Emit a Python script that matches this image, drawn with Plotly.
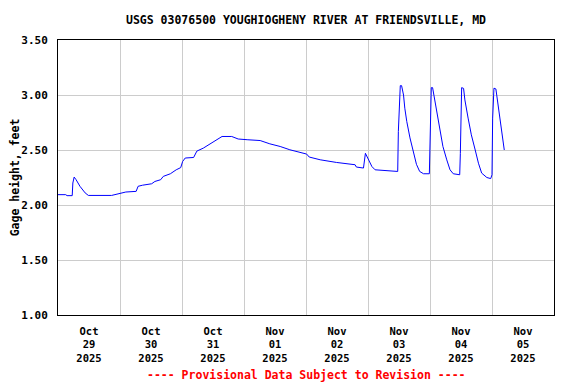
import plotly.graph_objects as go

times = [
    "2025-10-29 00:00", "2025-10-29 03:00", "2025-10-29 03:30", "2025-10-29 05:30",
    "2025-10-29 05:45", "2025-10-29 06:15", "2025-10-29 07:00", "2025-10-29 08:30",
    "2025-10-29 10:30", "2025-10-29 11:45", "2025-10-29 20:45", "2025-10-29 23:15",
    "2025-10-30 01:15", "2025-10-30 02:15", "2025-10-30 06:15", "2025-10-30 07:00",
    "2025-10-30 08:45", "2025-10-30 12:15", "2025-10-30 13:30", "2025-10-30 15:45",
    "2025-10-30 16:45", "2025-10-30 19:30", "2025-10-30 21:45", "2025-10-30 23:30",
    "2025-10-31 00:15", "2025-10-31 01:15", "2025-10-31 04:30", "2025-10-31 05:45",
    "2025-10-31 08:15", "2025-10-31 10:45", "2025-10-31 13:30", "2025-10-31 15:30",
    "2025-10-31 19:15", "2025-10-31 21:45", "2025-11-01 01:30", "2025-11-01 06:15",
    "2025-11-01 10:00", "2025-11-01 14:00", "2025-11-01 17:45", "2025-11-02 00:15",
    "2025-11-02 01:15", "2025-11-02 05:30", "2025-11-02 11:45", "2025-11-02 19:00",
    "2025-11-02 19:30", "2025-11-02 22:15", "2025-11-02 23:00", "2025-11-03 00:00",
    "2025-11-03 01:30", "2025-11-03 02:45", "2025-11-03 06:00", "2025-11-03 11:30",
    "2025-11-03 11:45", "2025-11-03 12:30", "2025-11-03 13:00", "2025-11-03 13:45",
    "2025-11-03 14:15", "2025-11-03 15:00", "2025-11-03 16:15", "2025-11-03 17:30",
    "2025-11-03 18:45", "2025-11-03 20:00", "2025-11-03 21:30", "2025-11-03 23:45",
    "2025-11-04 00:00", "2025-11-04 00:30", "2025-11-04 01:00", "2025-11-04 01:45",
    "2025-11-04 02:30", "2025-11-04 04:00", "2025-11-04 05:00", "2025-11-04 06:30",
    "2025-11-04 07:45", "2025-11-04 09:00", "2025-11-04 11:30", "2025-11-04 11:45",
    "2025-11-04 12:15", "2025-11-04 13:00", "2025-11-04 13:30", "2025-11-04 14:45",
    "2025-11-04 16:00", "2025-11-04 17:30", "2025-11-04 18:45", "2025-11-04 20:00",
    "2025-11-04 22:00", "2025-11-04 23:30", "2025-11-05 00:00", "2025-11-05 00:15",
    "2025-11-05 00:45", "2025-11-05 01:30", "2025-11-05 02:00", "2025-11-05 03:00",
    "2025-11-05 04:00", "2025-11-05 04:45",
]

gage_height = [
    2.094, 2.094, 2.085, 2.085,
    2.20, 2.254, 2.23, 2.17,
    2.11, 2.087, 2.087, 2.10,
    2.109, 2.118, 2.124, 2.17,
    2.18, 2.193, 2.214, 2.23,
    2.26, 2.284, 2.32, 2.34,
    2.396, 2.427, 2.432, 2.49,
    2.517, 2.556, 2.593, 2.623,
    2.623, 2.60, 2.593, 2.586,
    2.556, 2.532, 2.502, 2.463,
    2.436, 2.411, 2.387, 2.366,
    2.345, 2.336, 2.47, 2.427,
    2.35, 2.32, 2.314, 2.305,
    2.668, 3.085, 3.085, 3.0,
    2.88, 2.76, 2.61, 2.49,
    2.37, 2.305, 2.284, 2.284,
    2.638, 3.067, 3.067, 2.97,
    2.85, 2.668, 2.532, 2.41,
    2.32, 2.284, 2.275, 2.47,
    3.067, 3.06, 2.955, 2.79,
    2.638, 2.50, 2.38, 2.29,
    2.25, 2.24, 2.275, 2.79,
    3.062, 3.055, 2.97, 2.76,
    2.61, 2.50,
]

tick_dates = ["2025-10-29 12:00", "2025-10-30 12:00", "2025-10-31 12:00", "2025-11-01 12:00",
              "2025-11-02 12:00", "2025-11-03 12:00", "2025-11-04 12:00", "2025-11-05 12:00"]
tick_labels = ["Oct<br>29<br>2025", "Oct<br>30<br>2025", "Oct<br>31<br>2025", "Nov<br>01<br>2025",
               "Nov<br>02<br>2025", "Nov<br>03<br>2025", "Nov<br>04<br>2025", "Nov<br>05<br>2025"]
grid_dates = ["2025-10-30", "2025-10-31", "2025-11-01", "2025-11-02",
              "2025-11-03", "2025-11-04", "2025-11-05"]

title_text = "USGS 03076500 YOUGHIOGHENY RIVER AT FRIENDSVILLE, MD"
y_title = "Gage height, feet"
footer = "---- Provisional Data Subject to Revision ----"

FONT = "DejaVu Sans Mono"

# The page body keeps an 8px margin, so the figure is sized to fill the rest of the window.
W, H = 568, 376

fig = go.Figure()
fig.add_trace(go.Scatter(x=times, y=gage_height, mode="lines",
                         line=dict(color="#0000ff", width=1), hoverinfo="skip"))

fig.update_layout(
    width=W, height=H,
    margin=dict(l=50, r=22, t=32, b=69, autoexpand=False),
    paper_bgcolor="white", plot_bgcolor="white",
    showlegend=False,
    font=dict(family=FONT, size=11, color="black", weight="bold"),
    title=dict(text=title_text, xref="paper", x=0.5, xanchor="center",
               yref="container", y=1 - 12 / H, yanchor="middle",
               font=dict(family=FONT, size=11.5, color="black", weight="bold")),
)

fig.update_xaxes(
    type="date",
    range=["2025-10-29 00:00", "2025-11-06 00:00"],
    tickmode="array", tickvals=tick_dates, ticktext=tick_labels,
    showgrid=False, ticks="outside", ticklen=6, tickcolor="rgba(0,0,0,0)",
    tickangle=0,
    showline=True, linecolor="black", linewidth=1, mirror=True,
    zeroline=False,
    minor=dict(tickmode="array", tickvals=grid_dates, showgrid=True,
               gridcolor="#cccccc", gridwidth=1, ticks=""),
    tickfont=dict(family=FONT, size=10.5, color="black", weight="bold"),
)

fig.update_yaxes(
    range=[1.0, 3.5], tickmode="linear", tick0=1.0, dtick=0.5, tickformat=".2f",
    showgrid=True, gridcolor="#cccccc", gridwidth=1,
    ticks="outside", ticklen=7, tickcolor="rgba(0,0,0,0)",
    showline=True, linecolor="black", linewidth=1, mirror=True,
    zeroline=False,
    title=dict(text=y_title, standoff=4,
               font=dict(family=FONT, size=11.5, color="black", weight="bold")),
    tickfont=dict(family=FONT, size=11, color="black", weight="bold"),
)

fig.add_annotation(text=footer, xref="paper", yref="paper", x=0.5, y=-(367 - 307) / 275,
                   xanchor="center", yanchor="middle", showarrow=False,
                   font=dict(family=FONT, size=11.5, color="#ff0000", weight="bold"))

fig.write_html("out.html")
